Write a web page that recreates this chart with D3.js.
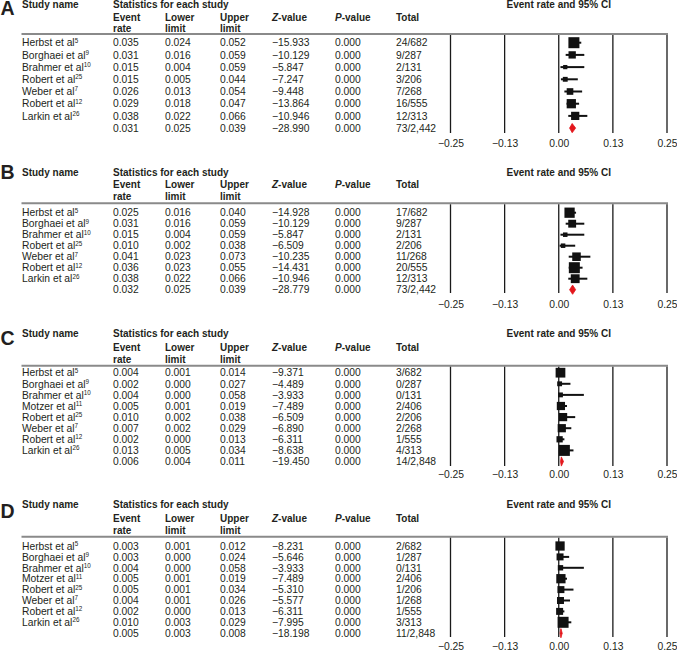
<!DOCTYPE html>
<html><head><meta charset="utf-8">
<script src="https://cdn.jsdelivr.net/npm/d3@7"></script>
<style>
html,body{margin:0;padding:0;background:#fff;}
svg{display:block;font-family:"Liberation Sans",Arial,Helvetica,sans-serif;}
</style></head>
<body>
<svg id="chart" width="677" height="651"></svg>
<script>
// ---------- DATA ----------
const studiesAB = ["Herbst et al","Borghaei et al","Brahmer et al","Robert et al","Weber et al","Robert et al","Larkin et al"];
const refsAB    = ["5","9","10","25","7","12","26"];
const studiesCD = ["Herbst et al","Borghaei et al","Brahmer et al","Motzer et al","Robert et al","Weber et al","Robert et al","Larkin et al"];
const refsCD    = ["5","9","10","11","25","7","12","26"];
const totalsAB  = [682,287,131,206,268,555,313,2442];
const totalsCD  = [682,287,131,406,206,268,555,313,2848];

// Panel A (last entry = pooled)
const rateA   = [0.035,0.031,0.015,0.015,0.026,0.029,0.038,0.031];
const lowerA  = [0.024,0.016,0.004,0.005,0.013,0.018,0.022,0.025];
const upperA  = [0.052,0.059,0.059,0.044,0.054,0.047,0.066,0.039];
const zA      = [-15.933,-10.129,-5.847,-7.247,-9.448,-13.864,-10.946,-28.990];
const pA      = [0,0,0,0,0,0,0,0];
const eventsA = [24,9,2,3,7,16,12,73];

// Panel B
const rateB   = [0.025,0.031,0.015,0.010,0.041,0.036,0.038,0.032];
const lowerB  = [0.016,0.016,0.004,0.002,0.023,0.023,0.022,0.025];
const upperB  = [0.040,0.059,0.059,0.038,0.073,0.055,0.066,0.039];
const zB      = [-14.928,-10.129,-5.847,-6.509,-10.235,-14.431,-10.946,-28.779];
const pB      = [0,0,0,0,0,0,0,0];
const eventsB = [17,9,2,2,11,20,12,73];

// Panel C
const rateC   = [0.004,0.002,0.004,0.005,0.010,0.007,0.002,0.013,0.006];
const lowerC  = [0.001,0.000,0.000,0.001,0.002,0.002,0.000,0.005,0.004];
const upperC  = [0.014,0.027,0.058,0.019,0.038,0.029,0.013,0.034,0.011];
const zC      = [-9.371,-4.489,-3.933,-7.489,-6.509,-6.890,-6.311,-8.638,-19.450];
const pC      = [0,0,0,0,0,0,0,0,0];
const eventsC = [3,0,0,2,2,2,1,4,14];

// Panel D
const rateD   = [0.003,0.003,0.004,0.005,0.005,0.004,0.002,0.010,0.005];
const lowerD  = [0.001,0.000,0.000,0.001,0.001,0.001,0.000,0.003,0.003];
const upperD  = [0.012,0.024,0.058,0.019,0.034,0.026,0.013,0.029,0.008];
const zD      = [-8.231,-5.646,-3.933,-7.489,-5.310,-5.577,-6.311,-7.995,-18.198];
const pD      = [0,0,0,0,0,0,0,0,0];
const eventsD = [2,1,0,2,1,1,1,3,11];

const axisTicks = [-0.25,-0.125,0,0.125,0.25];
const axisDomain = [-0.25,0.25];

// ---------- LAYOUT ----------
const panels = [
  {label:"A", names:studiesAB, refs:refsAB, rate:rateA, lower:lowerA, upper:upperA, z:zA, p:pA, events:eventsA, totals:totalsAB,
   letterY:14.5, lineY:34, titleOff:-25.8, eventOff:-13.5, rateOff:-2.3, row0:42.7, step:12.2, vBottom:133, tickY:148},
  {label:"B", names:studiesAB, refs:refsAB, rate:rateB, lower:lowerB, upper:upperB, z:zB, p:pB, events:eventsB, totals:totalsAB,
   letterY:179, lineY:203.3, titleOff:-27.8, eventOff:-15, rateOff:-3.5, row0:212.7, step:11.0, vBottom:293, tickY:308.5},
  {label:"C", names:studiesCD, refs:refsCD, rate:rateC, lower:lowerC, upper:upperC, z:zC, p:pC, events:eventsC, totals:totalsCD,
   letterY:345, lineY:365.7, titleOff:-28.5, eventOff:-15, rateOff:-3, row0:372.7, step:11.1, vBottom:466, tickY:478.5},
  {label:"D", names:studiesCD, refs:refsCD, rate:rateD, lower:lowerD, upper:upperD, z:zD, p:pD, events:eventsD, totals:totalsCD,
   letterY:518, lineY:536.7, titleOff:-28.7, eventOff:-15, rateOff:-2.7, row0:546, step:10.9, vBottom:637, tickY:650.5}
];

const cols = {name:22, rate:113, lower:165, upper:220, z:272, p:335, total:396};
const x = d3.scaleLinear().domain(axisDomain).range([450.5, 667]);
const fmt3 = d3.format(".3f");
const fmtTick = d3.format(".2f");
const fmtN = d3.format(",");
const TXT = "#231f20";
const FS = 10.3;
const FSB = 10;

const svg = d3.select("#chart");

panels.forEach(P => {
  const g = svg.append("g");
  const n = P.rate.length;
  const rowY = i => P.row0 + P.step * i;

  // panel letter
  g.append("text").attr("x", 0.6).attr("y", P.letterY).attr("font-size", 19.5).attr("font-weight", "bold")
    .attr("fill", TXT).text(P.label);

  // header texts
  const hdr = (xx, yy, t) => g.append("text").attr("x", xx).attr("y", yy).attr("font-size", FSB)
      .attr("font-weight", "bold").attr("fill", TXT).text(t);
  hdr(cols.name, P.lineY + P.titleOff, "Study name");
  hdr(cols.rate, P.lineY + P.titleOff, "Statistics for each study");
  hdr(cols.rate, P.lineY + P.eventOff, "Event");
  hdr(cols.rate, P.lineY + P.rateOff, "rate");
  hdr(cols.lower, P.lineY + P.eventOff, "Lower");
  hdr(cols.lower, P.lineY + P.rateOff, "limit");
  hdr(cols.upper, P.lineY + P.eventOff, "Upper");
  hdr(cols.upper, P.lineY + P.rateOff, "limit");
  const zt = hdr(cols.z, P.lineY + P.eventOff, "");
  zt.append("tspan").attr("font-style", "italic").text("Z");
  zt.append("tspan").text("-value");
  const pt = hdr(cols.p, P.lineY + P.eventOff, "");
  pt.append("tspan").attr("font-style", "italic").text("P");
  pt.append("tspan").text("-value");
  hdr(cols.total, P.lineY + P.eventOff, "Total");
  hdr(x(0), P.lineY + P.titleOff, "Event rate and 95% CI").attr("text-anchor", "middle");

  // header rule
  g.append("line").attr("x1", 21.5).attr("x2", 668).attr("y1", P.lineY).attr("y2", P.lineY)
    .attr("stroke", "#8a8a8a").attr("stroke-width", 2);

  // vertical reference lines
  g.selectAll("line.grid").data(axisTicks).join("line").attr("class", "grid")
    .attr("x1", d => x(d)).attr("x2", d => x(d))
    .attr("y1", P.lineY + 1).attr("y2", P.vBottom)
    .attr("stroke", "#1a1a1a").attr("stroke-width", 1.3);

  // tick labels via d3 axis
  const axis = d3.axisBottom(x).tickValues(axisTicks).tickFormat(fmtTick).tickSize(0).tickPadding(0);
  const ag = g.append("g").attr("transform", `translate(0,${P.tickY - 8})`).call(axis);
  ag.select(".domain").remove();
  ag.selectAll("text").attr("font-size", FS).attr("fill", TXT)
    .attr("font-family", '"Liberation Sans",Arial,Helvetica,sans-serif').attr("dy", "0.71em");

  // table rows
  const idx = d3.range(n);
  const cell = (xx, f) => g.selectAll(null).data(idx).join("text")
      .attr("x", xx).attr("y", i => rowY(i) + 3.7).attr("font-size", FS).attr("fill", TXT).text(f);
  // names with superscripts
  const nm = g.selectAll(null).data(idx.slice(0, n - 1)).join("text")
      .attr("x", cols.name).attr("y", i => rowY(i) + 3.7).attr("font-size", FS).attr("fill", TXT);
  nm.append("tspan").text(i => P.names[i]);
  nm.append("tspan").attr("font-size", 6.3).attr("dy", -3.8).text(i => P.refs[i]);

  cell(cols.rate, i => fmt3(P.rate[i]));
  cell(cols.lower, i => fmt3(P.lower[i]));
  cell(cols.upper, i => fmt3(P.upper[i]));
  cell(cols.z, i => fmt3(P.z[i]));
  cell(cols.p, i => fmt3(P.p[i]));
  cell(cols.total, i => fmtN(P.events[i]) + "/" + fmtN(P.totals[i]));

  // forest marks
  const studyIdx = idx.slice(0, n - 1);
  const w = studyIdx.map(i => Math.max(P.events[i], 0.5));
  const wmax = d3.max(w);
  const side = d3.scaleSqrt().domain([0, wmax]).range([1.5, 11]);

  g.selectAll(null).data(studyIdx).join("line")
    .attr("x1", i => x(P.lower[i])).attr("x2", i => x(P.upper[i]))
    .attr("y1", i => rowY(i)).attr("y2", i => rowY(i))
    .attr("stroke", "#111").attr("stroke-width", 2);
  g.selectAll(null).data(studyIdx).join("rect")
    .attr("x", i => x(P.rate[i]) - side(w[i]) / 2)
    .attr("y", i => rowY(i) - side(w[i]) / 2)
    .attr("width", i => side(w[i])).attr("height", i => side(w[i]))
    .attr("fill", "#111");

  // pooled diamond
  const k = n - 1, cy = rowY(k), h = 4.6;
  g.append("path")
    .attr("d", `M${x(P.lower[k])},${cy} L${x(P.rate[k])},${cy - h} L${x(P.upper[k])},${cy} L${x(P.rate[k])},${cy + h} Z`)
    .attr("fill", "#e3161c").attr("stroke", "#e3161c").attr("stroke-width", 0.8);
});
</script>
</body></html>
